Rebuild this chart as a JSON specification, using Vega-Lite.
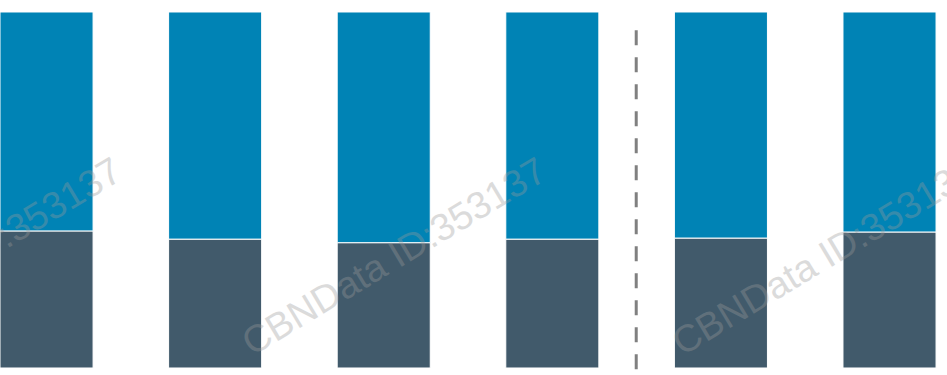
{
  "$schema": "https://vega.github.io/schema/vega-lite/v6.json",
  "width": 947,
  "height": 375,
  "autosize": {"type": "none"},
  "padding": 0,
  "background": "white",
  "view": {"stroke": null},
  "config": {"font": "Liberation Sans"},
  "layer": [
    {
      "data": {"values": [
        {"bar": "1", "part": "base", "o": 1, "share": 38.5},
        {"bar": "1", "part": "rest", "o": 2, "share": 61.5},
        {"bar": "2", "part": "base", "o": 1, "share": 36.2},
        {"bar": "2", "part": "rest", "o": 2, "share": 63.8},
        {"bar": "3", "part": "base", "o": 1, "share": 35.2},
        {"bar": "3", "part": "rest", "o": 2, "share": 64.8},
        {"bar": "4", "part": "base", "o": 1, "share": 36.2},
        {"bar": "4", "part": "rest", "o": 2, "share": 63.8},
        {"bar": "5", "part": "base", "o": 1, "share": 36.5},
        {"bar": "5", "part": "rest", "o": 2, "share": 63.5},
        {"bar": "6", "part": "base", "o": 1, "share": 38.2},
        {"bar": "6", "part": "rest", "o": 2, "share": 61.8}
      ]},
      "mark": {"type": "bar", "stroke": "white", "strokeWidth": 1},
      "encoding": {
        "x": {"field": "bar", "type": "nominal", "axis": null, "sort": null,
              "scale": {"type": "band", "paddingInner": 0.448, "paddingOuter": 0.0325, "align": 0}},
        "y": {"field": "share", "type": "quantitative", "stack": "zero", "axis": null,
              "scale": {"domain": [-1.97, 103.37], "nice": false, "zero": false}},
        "color": {"field": "part", "type": "nominal", "legend": null,
                  "scale": {"domain": ["base", "rest"], "range": ["#415a6b", "#0083b5"]}},
        "order": {"field": "o", "type": "quantitative"}
      }
    },
    {
      "data": {"values": [{"bar": "5", "top": 94.9, "bottom": -1.97}]},
      "mark": {"type": "rule", "color": "#808080", "strokeWidth": 3, "strokeDash": [15, 12]},
      "encoding": {
        "x": {"field": "bar", "type": "nominal", "bandPosition": -0.41},
        "y": {"field": "top", "type": "quantitative"},
        "y2": {"field": "bottom"}
      }
    },
    {
      "data": {"values": [{"bar": "1", "y": 30.9, "label": "CBNData ID:353137"}]},
      "mark": {"type": "text", "angle": -31, "fontSize": 38, "fill": "#9a9a9a", "opacity": 0.35, "align": "center", "baseline": "middle"},
      "encoding": {
        "x": {"field": "bar", "type": "nominal", "bandPosition": -0.32},
        "y": {"field": "y", "type": "quantitative"},
        "text": {"field": "label"}
      }
    },
    {
      "data": {"values": [{"bar": "3", "y": 30.9, "label": "CBNData ID:353137"}]},
      "mark": {"type": "text", "angle": -31, "fontSize": 38, "fill": "#9a9a9a", "opacity": 0.35, "align": "center", "baseline": "middle"},
      "encoding": {
        "x": {"field": "bar", "type": "nominal", "bandPosition": 0.62},
        "y": {"field": "y", "type": "quantitative"},
        "text": {"field": "label"}
      }
    },
    {
      "data": {"values": [{"bar": "5", "y": 30.9, "label": "CBNData ID:353137"}]},
      "mark": {"type": "text", "angle": -31, "fontSize": 38, "fill": "#9a9a9a", "opacity": 0.35, "align": "center", "baseline": "middle"},
      "encoding": {
        "x": {"field": "bar", "type": "nominal", "bandPosition": 1.62},
        "y": {"field": "y", "type": "quantitative"},
        "text": {"field": "label"}
      }
    }
  ]
}
